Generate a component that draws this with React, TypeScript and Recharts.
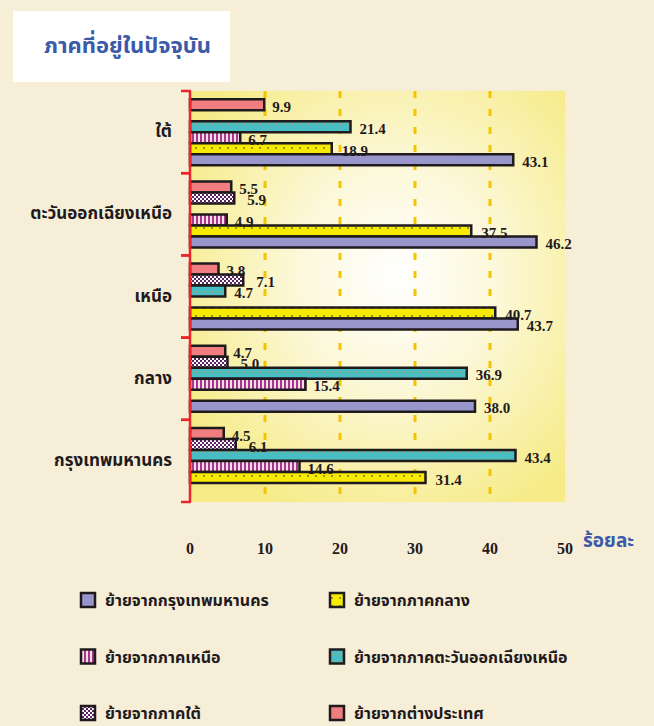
import React from 'react';
import { BarChart, Bar, XAxis, YAxis, CartesianGrid, LabelList } from 'recharts';

const regions = ['ใต้', 'ตะวันออกเฉียงเหนือ', 'เหนือ', 'กลาง', 'กรุงเทพมหานคร'];

const fromBangkok = [43.1, 46.2, 43.7, 38.0, null];
const fromCentral = [18.9, 37.5, 40.7, null, 31.4];
const fromNorth = [6.7, 4.9, null, 15.4, 14.6];
const fromNortheast = [21.4, null, 4.7, 36.9, 43.4];
const fromSouth = [null, 5.9, 7.1, 5.0, 6.1];
const fromAbroad = [9.9, 5.5, 3.8, 4.7, 4.5];

const xDomain = [0, 50];
const xTicks = [0, 10, 20, 30, 40, 50];
const gridValues = [10, 20, 30, 40];

// top-to-bottom order inside each band
const series = [
  { key: 'abroad', name: 'ย้ายจากต่างประเทศ', fill: '#F07E81', values: fromAbroad, labelDx: 8 },
  { key: 'south', name: 'ย้ายจากภาคใต้', fill: 'url(#checkSouth)', values: fromSouth, labelDx: 13 },
  { key: 'northeast', name: 'ย้ายจากภาคตะวันออกเฉียงเหนือ', fill: 'url(#dotsTeal)', values: fromNortheast, labelDx: 9 },
  { key: 'north', name: 'ย้ายจากภาคเหนือ', fill: 'url(#stripesNorth)', values: fromNorth, labelDx: 8 },
  { key: 'central', name: 'ย้ายจากภาคกลาง', fill: 'url(#dotsYellow)', values: fromCentral, labelDx: 10 },
  { key: 'bangkok', name: 'ย้ายจากกรุงเทพมหานคร', fill: '#9896CB', values: fromBangkok, labelDx: 9 },
];

const legendOrder = ['bangkok', 'central', 'north', 'northeast', 'south', 'abroad'];

const data = regions.map((region, i) => {
  const row: Record<string, any> = { region };
  series.forEach(s => { row[s.key] = s.values[i]; });
  return row;
});

const thaiFont = "'Noto Sans Thai', 'Loma', 'Garuda', 'Norasi', 'Tlwg Typo', sans-serif";
const numFont = "'Liberation Serif', 'Times New Roman', serif";
const ink = '#1F1A1C';
const blue = '#3C5AA8';
const red = '#E8262B';

const RegionTick = (props: any) => {
  const { x, y, payload } = props;
  const half = payload && payload.offset ? payload.offset : 41;
  return (
    <g>
      <text x={x} y={y} textAnchor="end" dominantBaseline="central" fontFamily={thaiFont} fontWeight="bold" fontSize={17} fill={ink}>
        {payload.value}
      </text>
      <line x1={x + 9} x2={x + 19} y1={y - half} y2={y - half} stroke={red} strokeWidth={2.5} />
      <line x1={x + 9} x2={x + 19} y1={y + half} y2={y + half} stroke={red} strokeWidth={2.5} />
    </g>
  );
};

const makeLabel = (dx: number) => (props: any) => {
  const { x, y, width, height, value } = props;
  if (value === null || value === undefined) return null;
  return (
    <text x={x + width + dx} y={y + height / 2 + 2} dominantBaseline="central" fontFamily={numFont} fontWeight="bold" fontSize={15} fill={ink}>
      {Number(value).toFixed(1)}
    </text>
  );
};

const gridX = (p: any) => {
  const sc = p && p.xAxis ? p.xAxis.scale : null;
  return gridValues.map(v => {
    if (typeof sc === 'function') return sc(v);
    if (sc && typeof sc.map === 'function') return sc.map(v);
    const o = p.offset;
    return o.left + (o.width * (v - xDomain[0])) / (xDomain[1] - xDomain[0]);
  });
};

export default function App() {
  return (
    <div style={{ position: 'absolute', top: 0, left: 0, width: 654, height: 726, background: '#F7EED8', overflow: 'hidden' }}>
      <div style={{ position: 'absolute', left: 13, top: 11, width: 217, height: 71, background: '#FFFFFF', display: 'flex', alignItems: 'center', justifyContent: 'center' }}>
        <span style={{ fontFamily: thaiFont, fontWeight: 'bold', fontSize: 22, color: blue, paddingLeft: 12 }}>ภาคที่อยู่ในปัจจุบัน</span>
      </div>

      <BarChart
        width={654}
        height={570}
        data={data}
        layout="vertical"
        margin={{ top: 91, right: 89, left: 0, bottom: 0 }}
        barCategoryGap="10%"
        barGap={0}
        style={{ position: 'absolute', left: 0, top: 0 }}
      >
        <defs>
          <radialGradient id="plotBg" cx="55%" cy="45%" r="65%">
            <stop offset="0%" stopColor="#FFFFFF" />
            <stop offset="40%" stopColor="#FCF8DA" />
            <stop offset="100%" stopColor="#F6EB86" />
          </radialGradient>
          <pattern id="dotsYellow" width={8} height={8} patternUnits="userSpaceOnUse">
            <rect width={8} height={8} fill="#F5EA00" />
            <circle cx={4} cy={4} r={0.9} fill="#6E6A3A" />
          </pattern>
          <pattern id="dotsTeal" width={8} height={8} patternUnits="userSpaceOnUse">
            <rect width={8} height={8} fill="#48BDC4" />
            <circle cx={4} cy={4} r={0.9} fill="#E0942C" />
          </pattern>
          <pattern id="stripesNorth" width={4} height={4} patternUnits="userSpaceOnUse">
            <rect width={4} height={4} fill="#F8DCE6" />
            <rect width={2} height={4} fill="#A6378E" />
          </pattern>
          <pattern id="checkSouth" width={4} height={4} patternUnits="userSpaceOnUse">
            <rect width={4} height={4} fill="#FFFFFF" />
            <rect width={2} height={2} fill="#5A2461" />
            <rect x={2} y={2} width={2} height={2} fill="#5A2461" />
          </pattern>
        </defs>
        <CartesianGrid
          horizontal={false}
          fill="url(#plotBg)"
          fillOpacity={1}
          stroke="#F5C400"
          strokeWidth={3}
          strokeDasharray="7 11"
          verticalCoordinatesGenerator={gridX}
        />
        <XAxis
          type="number"
          domain={xDomain}
          ticks={xTicks}
          axisLine={false}
          tickLine={false}
          tickSize={0}
          tickMargin={41}
          tick={{ fontFamily: numFont, fontWeight: 'bold', fontSize: 16, fill: ink }}
          height={68}
        />
        <YAxis
          type="category"
          dataKey="region"
          width={190}
          axisLine={{ stroke: red, strokeWidth: 2.5 }}
          tickLine={false}
          tickSize={0}
          tickMargin={18}
          tick={<RegionTick />}
        />
        {series.map(s => (
          <Bar key={s.key} dataKey={s.key} name={s.name} fill={s.fill} stroke={ink} strokeWidth={2.5} isAnimationActive={false}>
            <LabelList dataKey={s.key} content={makeLabel(s.labelDx)} />
          </Bar>
        ))}
      </BarChart>

      <div style={{ position: 'absolute', left: 583, top: 527, fontFamily: thaiFont, fontWeight: 'bold', fontSize: 19, color: blue }}>
        ร้อยละ
      </div>

      <svg width={654} height={140} style={{ position: 'absolute', left: 0, top: 586 }}>
        {legendOrder.map((k, i) => {
          const s = series.find(x => x.key === k)!;
          const col = i % 2;
          const row = Math.floor(i / 2);
          const x = col === 0 ? 81 : 330;
          const y = 7 + row * 56.5;
          return (
            <g key={k}>
              <rect x={x} y={y} width={14} height={14} fill={s.fill} stroke={ink} strokeWidth={2.5} />
              <text x={x + 24} y={y + 8} dominantBaseline="central" fontFamily={thaiFont} fontWeight="bold" fontSize={16} fill={ink}>
                {s.name}
              </text>
            </g>
          );
        })}
      </svg>
    </div>
  );
}
